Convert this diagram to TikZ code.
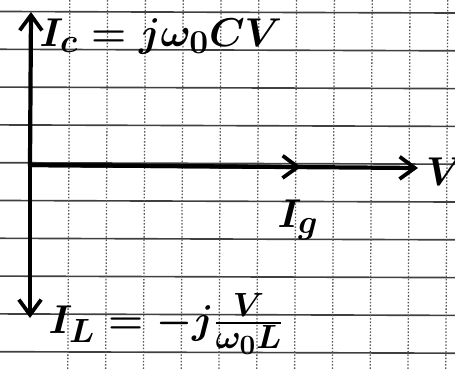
\documentclass[tikz,border=0pt]{standalone}
\usepackage{amsmath}
\usetikzlibrary{arrows.meta}
\tikzset{
  gridh/.style={black!75, line width=1.4pt},
  gridv/.style={black!65, line width=1.1pt, dash pattern=on 1.3pt off 1.5pt},
  phasor/.style={line width=3.6pt, line cap=round,
    -{Straight Barb[length=13pt,width=19pt,line width=3.2pt]}},
  hand/.style={font=\Huge\boldmath, scale=1.38, inner sep=0pt}
}
\begin{document}
\begin{tikzpicture}[x=0.03cm,y=-0.03cm]
  \useasboundingbox (0,0) rectangle (455,370);
  % squared paper
  \foreach \k in {0,...,9}
    \draw[gridh] (0,11.5+37.8*\k) -- (455,13+37.8*\k);
  \foreach \k in {1,...,11}
    \draw[gridv] (32+37.8*\k,0) -- (30+37.8*\k,370);
  % axes and phasors
  \coordinate (O) at (30,165);
  \coordinate (IcTip) at (31,12);
  \coordinate (ILTip) at (30,318);
  \coordinate (IgTip) at (301,167);
  \coordinate (VTip) at (418,168);
  \draw[phasor] (O) -- (IcTip);
  \draw[phasor] (O) -- (ILTip);
  \draw[phasor] (O) -- (VTip);
  \draw[phasor] (O) -- (IgTip);
  % labels
  \node[hand] (Ic) at (161,36) {$I_c = j\omega_0 C V$};
  \node[hand] (Ig) at (298,220) {$I_g$};
  \node[hand] (V) at (445,172) {$V$};
  \node[hand] (IL) at (166,324) {$I_L = -j\tfrac{V}{\omega_0 L}$};
\end{tikzpicture}
\end{document}
